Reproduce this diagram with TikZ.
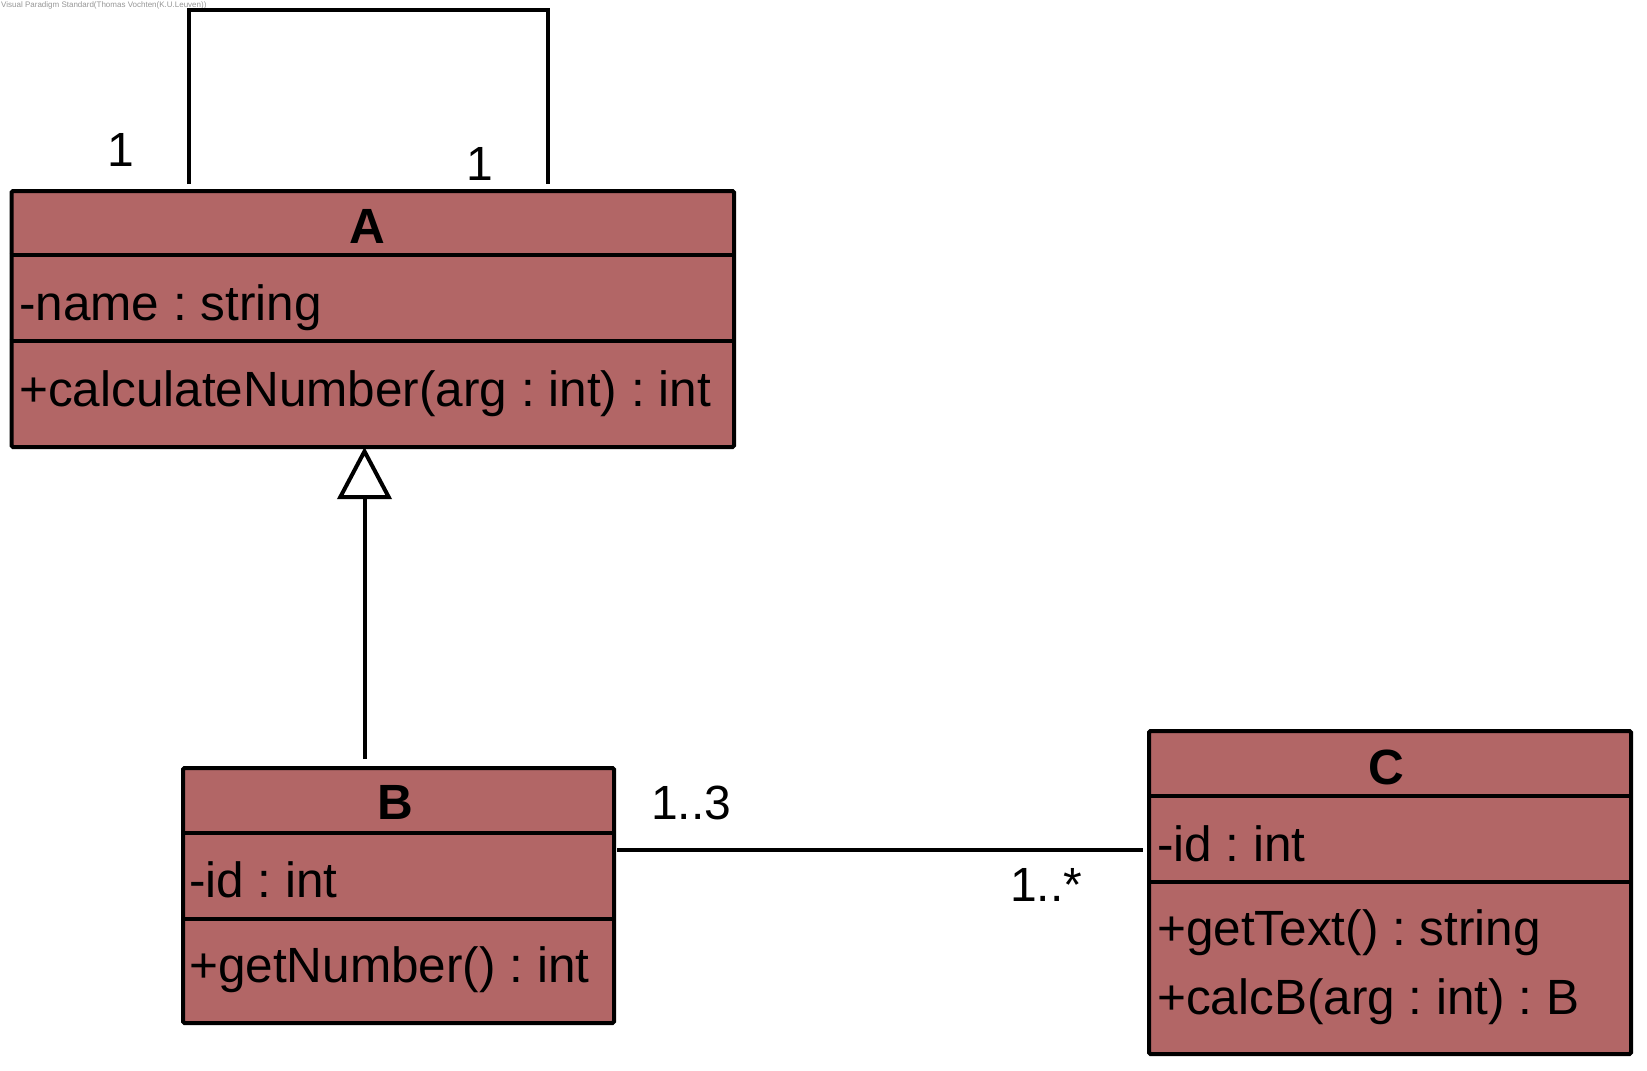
\documentclass[tikz,border=0pt]{standalone}
\usepackage{fontspec}
\setmainfont{Liberation Sans}
\usetikzlibrary{arrows.meta}
\frenchspacing

\definecolor{classred}{RGB}{178,102,102}
\definecolor{markgray}{RGB}{150,150,150}

\tikzset{
    classbox/.style={draw, fill=classred, line width=4pt, anchor=north west, inner sep=0pt, rounded corners=1.5pt},
    divider/.style={line width=4pt},
    title/.style={anchor=base, inner sep=0pt, font=\fontsize{49.5}{49.5}\selectfont\bfseries},
    member/.style={anchor=base west, inner sep=0pt, font=\fontsize{49.5}{49.5}\selectfont},
    mult/.style={anchor=base west, inner sep=0pt, font=\fontsize{48}{48}\selectfont},
    link/.style={line width=4pt}
}

\begin{document}
\begin{tikzpicture}[x=1pt, y=-1pt]

    % Page frame, same size as the reference
    \useasboundingbox (0,0) rectangle (1647,1071);

    % Watermark in the top left corner
    \node[anchor=base west, inner sep=0pt, text=markgray, font=\fontsize{8}{8}\selectfont] (mark) at (1,7)
        {Visual Paradigm Standard(Thomas Vochten(K.U.Leuven))};

    % Class A
    \node[classbox, minimum width=722.5pt, minimum height=256pt] (A) at (9.5,189) {};
    \draw[divider] (A.west |- 0,255) -- (A.east |- 0,255);
    \draw[divider] (A.west |- 0,341) -- (A.east |- 0,341);
    \node[title] (Aname) at (367.5,243) {A};
    \node[member] (Aattr) at (19,320) {-name : string};
    \node[member] (Aop) at (19,406) {+calculateNumber(arg : int) : int};

    % Class B
    \node[classbox, minimum width=431pt, minimum height=255pt] (B) at (181,766) {};
    \draw[divider] (B.west |- 0,833) -- (B.east |- 0,833);
    \draw[divider] (B.west |- 0,919) -- (B.east |- 0,919);
    \node[title] (Bname) at (395,819) {B};
    \node[member] (Battr) at (189,897) {-id : int};
    \node[member] (Bop) at (189,982) {+getNumber() : int};

    % Class C
    \node[classbox, minimum width=482pt, minimum height=323pt] (C) at (1147,729) {};
    \draw[divider] (C.west |- 0,796) -- (C.east |- 0,796);
    \draw[divider] (C.west |- 0,882) -- (C.east |- 0,882);
    \node[title] (Cname) at (1386,784) {C};
    \node[member] (Cattr) at (1157,861) {-id : int};
    \node[member] (Cop1) at (1157,945) {+getText() : string};
    \node[member] (Cop2) at (1157,1014) {+calcB(arg : int) : B};

    % Ends of the connectors, just off the box borders
    \coordinate (loopL) at (189,184);
    \coordinate (loopR) at (548,184);
    \coordinate (genFoot) at (364.5,759);
    \coordinate (genTip) at (364.5,447);
    \coordinate (assB) at (617,850);
    \coordinate (assC) at (1143,850);

    % Self association on A
    \draw[link, line join=miter] (loopL) -- (loopL |- 0,9.5) -- (loopR |- 0,9.5) -- (loopR);
    \node[mult] (loopLm) at (107,166) {1};
    \node[mult] (loopRm) at (466,180) {1};

    % Generalization B --> A, hollow triangle
    \draw[link, -{Triangle[open, length=52pt, width=54pt, line width=4pt]}] (genFoot) -- (genTip);

    % Association B -- C
    \draw[link] (assB) -- (assC);
    \node[mult] (assBm) at (651,819) {1..3};
    \node[mult] (assCm) at (1010,901) {1..*};

\end{tikzpicture}
\end{document}
